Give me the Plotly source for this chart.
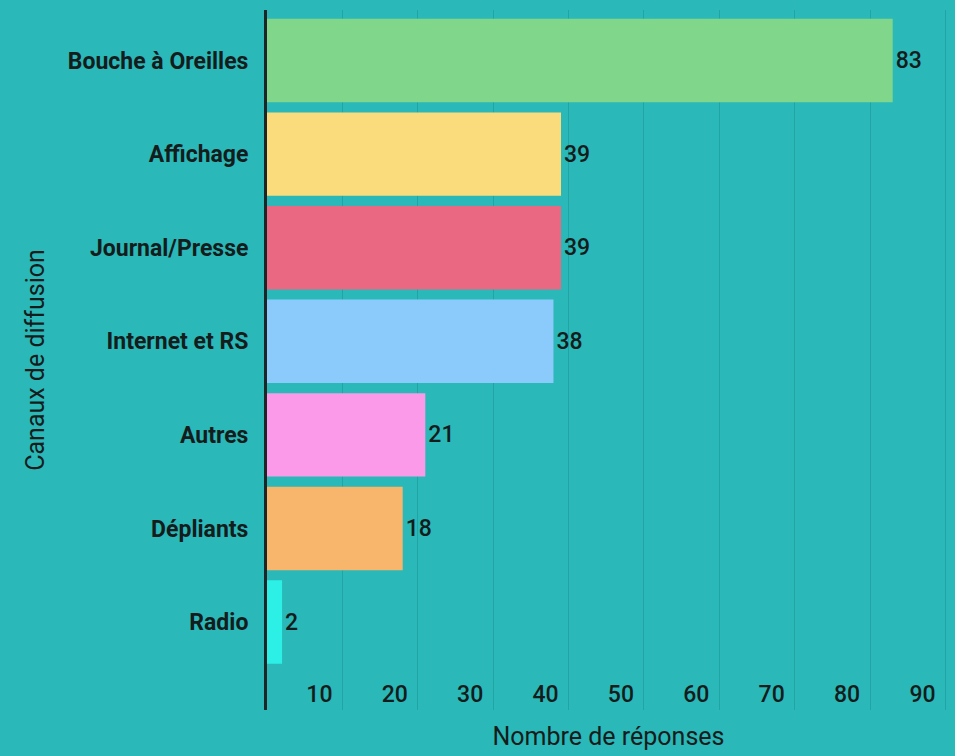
import plotly.graph_objects as go

categories = ["Bouche à Oreilles", "Affichage", "Journal/Presse", "Internet et RS",
              "Autres", "Dépliants", "Radio"]
values = [83, 39, 39, 38, 21, 18, 2]
colors = ["#80d68a", "#fbdc7c", "#ea6882", "#8acbfb", "#fa9ae8", "#f8b56c", "#2cf0e6"]
x_ticks = [10, 20, 30, 40, 50, 60, 70, 80, 90]

bg = "#2ab8b8"
txt = "#141c1c"

fig = go.Figure(go.Bar(
    x=values, y=categories, orientation="h",
    marker=dict(color=colors, line=dict(width=0)),
    text=[str(v) for v in values], textposition="outside",
    textfont=dict(family="Roboto", size=23, color=txt, weight=500),
    cliponaxis=False,
))

fig.update_layout(
    width=955, height=756,
    margin=dict(l=267, r=5, t=10, b=46),
    paper_bgcolor=bg, plot_bgcolor=bg,
    bargap=0.108,
    showlegend=False,
    font=dict(family="Roboto", color=txt),
    xaxis=dict(
        range=[0, 90.6], tickvals=x_ticks, ticktext=[str(t) for t in x_ticks],
        showgrid=True, gridcolor="#22a4a4", gridwidth=1,
        zeroline=False, showline=False, ticks="",
        ticklabelposition="inside", ticklabelshift=-23,
        tickfont=dict(family="Roboto", size=23, color=txt, weight=500),
        title=dict(text="Nombre de réponses", standoff=20,
                   font=dict(family="Roboto", size=25, color=txt)),
    ),
    yaxis=dict(
        type="category", range=[6.94, -0.54],
        showgrid=False, zeroline=False,
        showline=True, linecolor="#1c2626", linewidth=3,
        ticks="", ticklabelstandoff=11,
        tickfont=dict(family="Roboto", size=23, color=txt, weight="bold"),
        title=dict(text="Canaux de diffusion", standoff=17,
                   font=dict(family="Roboto", size=25, color=txt)),
    ),
)

fig.write_html("out.html")
